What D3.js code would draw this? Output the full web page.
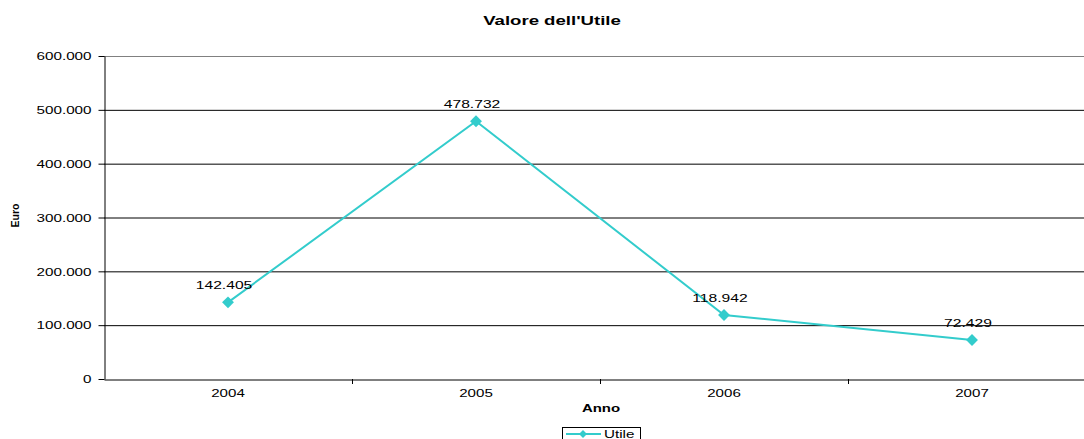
<!DOCTYPE html>
<html><head><meta charset="utf-8">
<script src="https://cdn.jsdelivr.net/npm/d3@7"></script>
<style>html,body{margin:0;padding:0;background:#fff;overflow:hidden}svg{display:block;font-family:"Liberation Sans",Arial,sans-serif}</style>
</head><body>
<svg id="c" width="1084" height="439"></svg>
<script>
const categories = ["2004","2005","2006","2007"];
const values = [142405, 478732, 118942, 72429];
const yTicks = [0,100000,200000,300000,400000,500000,600000];
const seriesName = "Utile";
const color = "#33CCCC";

const svg = d3.select("#c");
const L = 104, R = 1096, T = 56, B = 379;
const SX = 1.45;
const x = d3.scaleBand().domain(categories).range([L, R]).padding(0);
const y = d3.scaleLinear().domain([0, 600000]).range([B, T]);
const fmt = v => d3.format(",")(v).replace(/,/g, ".");

function stext(g, px, py, str, size, opts = {}) {
  const sx = opts.sx || SX;
  return g.append("text")
    .attr("transform", `translate(${px},${py}) scale(${sx},1)`)
    .attr("text-anchor", opts.anchor || "middle")
    .attr("font-size", size)
    .attr("font-weight", opts.bold ? "bold" : "normal")
    .attr("fill", "#000")
    .text(str);
}

// gridlines
svg.append("g").selectAll("line").data(yTicks.filter(d=>d>0)).join("line")
  .attr("x1", L).attr("x2", R).attr("y1", d=>y(d)+0.5).attr("y2", d=>y(d)+0.5)
  .attr("stroke", d => d===600000 ? "#808080" : "#000").attr("stroke-width", 1);

// y axis
const ya = svg.append("g").attr("transform", `translate(${L+0.5},0)`)
  .call(d3.axisLeft(y).tickValues(yTicks).tickFormat(fmt).tickSize(6).tickSizeOuter(0));
ya.select(".domain").attr("stroke","#000");
ya.selectAll(".tick line").attr("stroke","#000");
ya.selectAll(".tick text").attr("font-size", 10.5).attr("fill","#000")
  .attr("x", -13 / SX).attr("dy","0.36em").attr("transform", `scale(${SX},1)`)
  .style("font-family","Liberation Sans, Arial, sans-serif");

// x axis
const xa = svg.append("g").attr("transform", `translate(0,${B+0.5})`)
  .call(d3.axisBottom(x).tickSize(0).tickSizeOuter(0));
xa.select(".domain").attr("stroke","#000");
xa.selectAll(".tick text").attr("font-size", 10.5).attr("fill","#000")
  .attr("y", 17.5).attr("dy", 0).attr("transform", `scale(1.44,1)`)
  .style("font-family","Liberation Sans, Arial, sans-serif");
// band boundary ticks
svg.append("g").selectAll("line").data(categories.slice(1)).join("line")
  .attr("x1", d=>x(d)+0.5).attr("x2", d=>x(d)+0.5).attr("y1", B).attr("y2", B+5)
  .attr("stroke","#000");

// line
const cx = d => x(d) + x.bandwidth()/2;
const line = d3.line().x((d,i)=>cx(categories[i])).y(d=>y(d));
svg.append("path").datum(values).attr("d", line).attr("fill","none")
  .attr("stroke", color).attr("stroke-width", 2);
svg.append("g").selectAll("path").data(values).join("path")
  .attr("d", d3.symbol(d3.symbolDiamond2, 90)())
  .attr("transform", (d,i)=>`translate(${cx(categories[i])},${y(d)})`)
  .attr("fill", color);
const lbl = svg.append("g");
values.forEach((v,i) => stext(lbl, cx(categories[i]) - 4, y(v) - 13, fmt(v), 10.8));

// titles
stext(svg, 552, 24.5, "Valore dell'Utile", 13, {bold:true, sx:1.43});
stext(svg, 601, 412, "Anno", 10.7, {bold:true, sx:1.4});
svg.append("text").attr("transform", "translate(19,215.5) rotate(-90)").attr("text-anchor","middle")
  .attr("font-size", 10.5).attr("font-weight","bold").text("Euro");

// legend
const lg = svg.append("g");
lg.append("rect").attr("x", 562.5).attr("y", 427.5).attr("width", 78).attr("height", 16)
  .attr("fill","#fff").attr("stroke","#000");
lg.append("line").attr("x1", 566).attr("x2", 601).attr("y1", 434).attr("y2", 434)
  .attr("stroke", color).attr("stroke-width", 2);
lg.append("path").attr("d", d3.symbol(d3.symbolDiamond2, 40)())
  .attr("transform","translate(583,434)").attr("fill", color);
stext(lg, 604, 437.5, seriesName, 10.5, {anchor:"start"});
</script>
</body></html>
